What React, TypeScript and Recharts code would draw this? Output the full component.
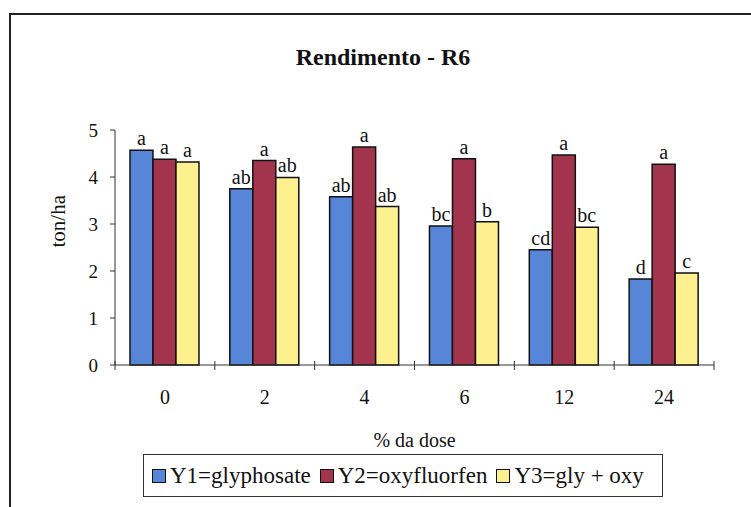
import { BarChart, Bar, XAxis, YAxis, LabelList } from "recharts";

const doses = ["0", "2", "4", "6", "12", "24"];
const glyphosate = [4.57, 3.75, 3.58, 2.96, 2.45, 1.83];
const oxyfluorfen = [4.38, 4.35, 4.64, 4.39, 4.47, 4.27];
const glyOxy = [4.32, 3.99, 3.37, 3.05, 2.93, 1.96];
const lettersY1 = ["a", "ab", "ab", "bc", "cd", "d"];
const lettersY2 = ["a", "a", "a", "a", "a", "a"];
const lettersY3 = ["a", "ab", "ab", "b", "bc", "c"];
const yTicks = [0, 1, 2, 3, 4, 5];

const data = doses.map((d, i) => ({
  dose: d,
  y1: glyphosate[i],
  y2: oxyfluorfen[i],
  y3: glyOxy[i],
  l1: lettersY1[i],
  l2: lettersY2[i],
  l3: lettersY3[i],
}));

const W = 751;
const H = 507;
const margin = { top: 130, right: 37, left: 0, bottom: 57 };
const yAxisW = 115;
const band = (W - margin.left - margin.right - yAxisW) / doses.length;
const serif = "'Liberation Serif', 'Times New Roman', serif";

const BLUE = "#5786d8";
const RED = "#a2344d";
const YELLOW = "#fdf08e";

function XTick(props: any) {
  const { x, y, payload, index } = props;
  return (
    <g>
      <text x={x} y={y + 39} textAnchor="middle" fontSize={20} fill="#111" fontFamily={serif}>
        {payload.value}
      </text>
      <line x1={x - band / 2} x2={x - band / 2} y1={y - 4} y2={y + 5} stroke="#333" />
      {index === doses.length - 1 && (
        <line x1={x + band / 2} x2={x + band / 2} y1={y - 4} y2={y + 5} stroke="#333" />
      )}
    </g>
  );
}

const legendItems = [
  { label: "Y1=glyphosate", color: BLUE },
  { label: "Y2=oxyfluorfen", color: RED },
  { label: "Y3=gly + oxy", color: YELLOW },
];

export default function App() {
  const labelStyle = { fontSize: 20, fill: "#111", fontFamily: serif };
  return (
    <div style={{ position: "absolute", left: 0, top: 0, width: W, height: H, overflow: "hidden", background: "#fff" }}>
      <div
        style={{
          position: "absolute",
          left: 9,
          top: 13,
          width: 900,
          height: 700,
          borderLeft: "2px solid #222",
          borderTop: "2px solid #222",
        }}
      />
      <div
        style={{
          position: "absolute",
          left: 0,
          width: 766,
          top: 44,
          textAlign: "center",
          fontFamily: serif,
          fontWeight: "bold",
          fontSize: 24,
          color: "#111",
        }}
      >
        Rendimento - R6
      </div>
      <div style={{ position: "absolute", left: 0, top: 0 }}>
        <BarChart width={W} height={H} data={data} margin={margin} barCategoryGap="15%" barGap={0}>
          <XAxis
            dataKey="dose"
            height={85}
            tickSize={0}
            tickMargin={0}
            tick={<XTick />}
            axisLine={{ stroke: "#333" }}
            label={{ value: "% da dose", position: "insideBottom", offset: 3, fontSize: 20, fill: "#111", fontFamily: serif }}
          />
          <XAxis xAxisId="top" dataKey="dose" orientation="top" height={0} tick={false} tickLine={false} axisLine={{ stroke: "#999" }} />
          <YAxis
            domain={[0, 5]}
            ticks={yTicks}
            width={yAxisW}
            tickSize={5}
            tickMargin={12}
            tick={{ fontSize: 19, fill: "#111", fontFamily: serif }}
            tickLine={{ stroke: "#333" }}
            axisLine={{ stroke: "#333" }}
            label={{ value: "ton/ha", angle: -90, position: "insideLeft", offset: 58, fontSize: 21, fill: "#111", fontFamily: serif }}
          />
          <YAxis yAxisId="r" orientation="right" domain={[0, 5]} width={0} tick={false} tickLine={false} axisLine={{ stroke: "#999" }} />
          <Bar dataKey="y1" fill={BLUE} stroke="#111" strokeWidth={1.5} isAnimationActive={false}>
            <LabelList dataKey="l1" position="top" offset={5} style={labelStyle} />
          </Bar>
          <Bar dataKey="y2" fill={RED} stroke="#111" strokeWidth={1.5} isAnimationActive={false}>
            <LabelList dataKey="l2" position="top" offset={5} style={labelStyle} />
          </Bar>
          <Bar dataKey="y3" fill={YELLOW} stroke="#111" strokeWidth={1.5} isAnimationActive={false}>
            <LabelList dataKey="l3" position="top" offset={5} style={labelStyle} />
          </Bar>
        </BarChart>
      </div>
      <div
        style={{
          position: "absolute",
          left: 143,
          top: 454,
          width: 520,
          height: 43,
          border: "1.5px solid #333",
          display: "flex",
          alignItems: "center",
          paddingLeft: 8,
          gap: 9,
          boxSizing: "border-box",
          fontFamily: serif,
          fontSize: 23,
          color: "#111",
        }}
      >
        {legendItems.map((it) => (
          <div key={it.label} style={{ display: "flex", alignItems: "center" }}>
            <span
              style={{
                display: "inline-block",
                width: 12,
                height: 12,
                background: it.color,
                border: "1.5px solid #111",
                marginRight: 4,
              }}
            />
            {it.label}
          </div>
        ))}
      </div>
    </div>
  );
}
